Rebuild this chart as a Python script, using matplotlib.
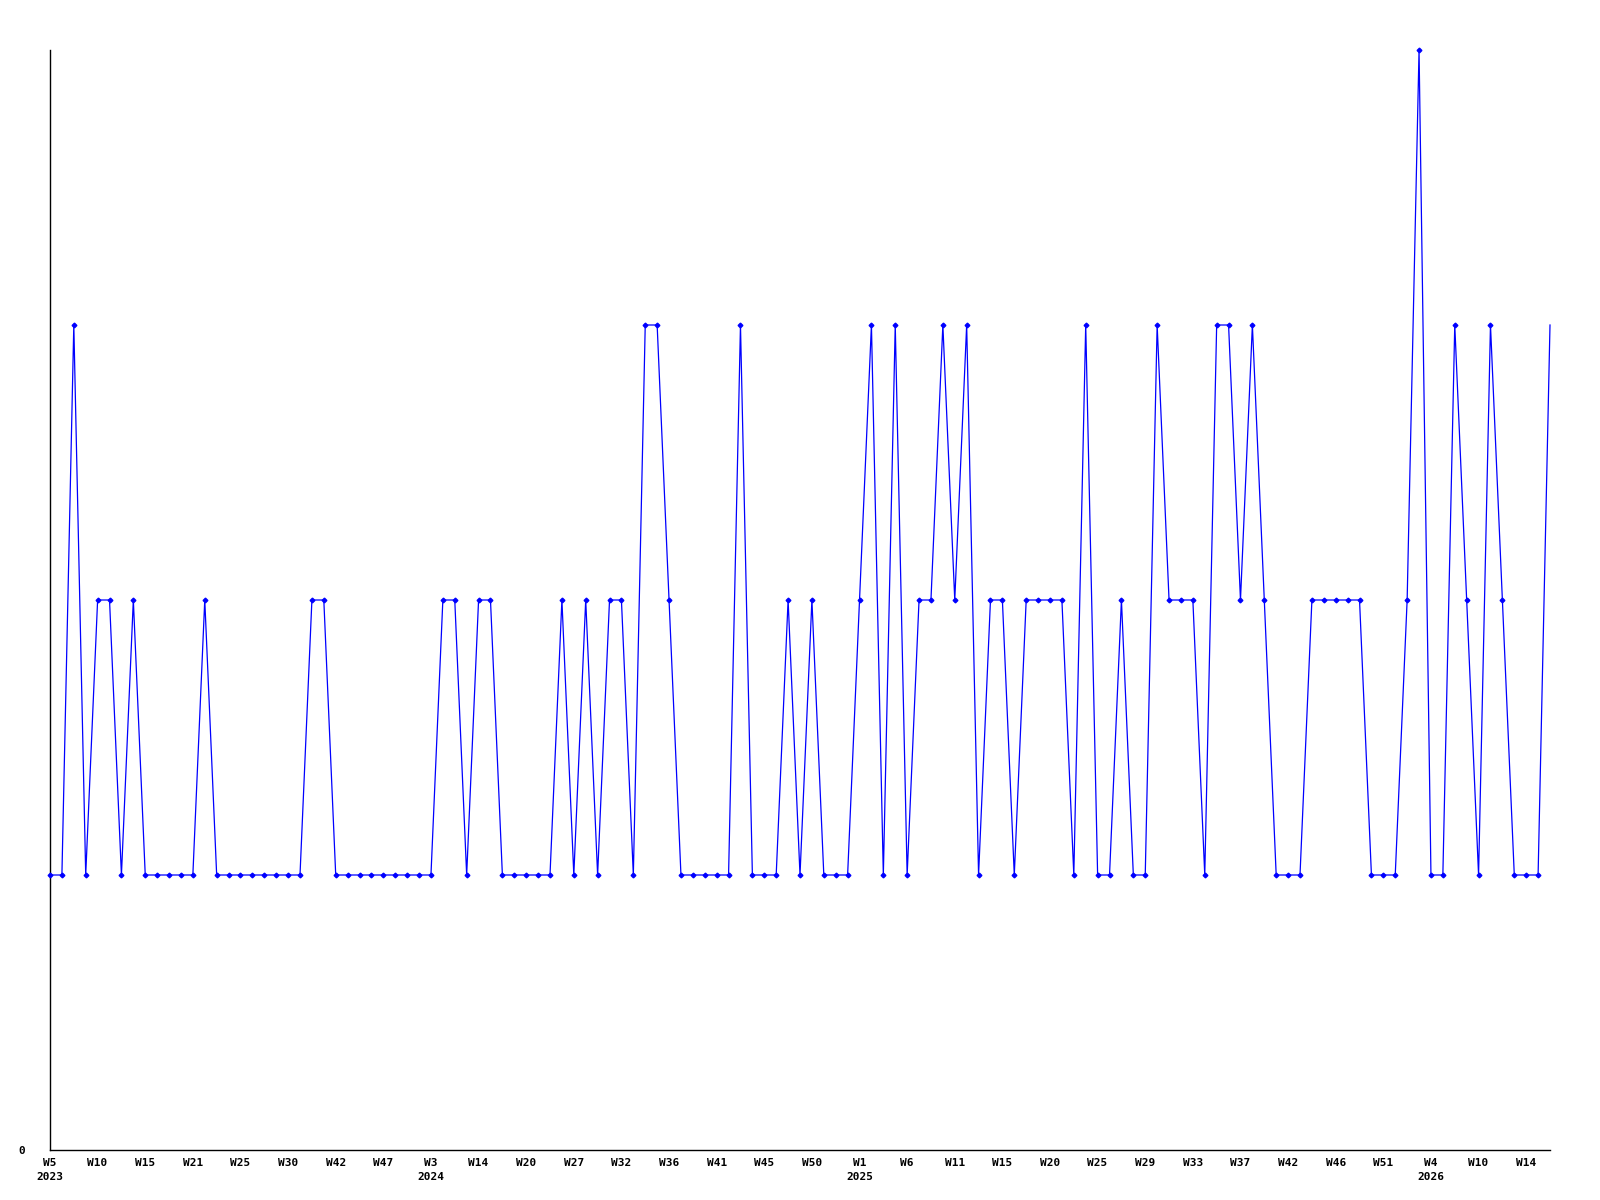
import matplotlib
matplotlib.use("Agg")
import matplotlib.pyplot as plt

# Weekly values (categorical x axis, one point per week with data)
values = [1, 1, 3, 1, 2, 2, 1, 2, 1, 1, 1, 1, 1, 2, 1, 1, 1, 1, 1, 1, 1, 1, 2, 2, 1, 1, 1, 1, 1, 1, 1, 1, 1,
          2, 2, 1, 2, 2, 1, 1, 1, 1, 1, 2, 1, 2, 1, 2, 2, 1, 3, 3, 2, 1, 1, 1, 1, 1, 3, 1, 1, 1, 2, 1, 2,
          1, 1, 1, 2, 3, 1, 3, 1, 2, 2, 3, 2, 3, 1, 2, 2, 1, 2, 2, 2, 2, 1, 3, 1, 1, 2, 1, 1, 3, 2, 2, 2, 1,
          3, 3, 2, 3, 2, 1, 1, 1, 2, 2, 2, 2, 2, 1, 1, 1, 2, 4, 1, 1, 3, 2, 1, 3, 2, 1, 1, 1, 3]

# Tick labels, one every 4 weeks
week_labels = ["W5", "W10", "W15", "W21", "W25", "W30", "W42", "W47", "W3", "W14", "W20",
               "W27", "W32", "W36", "W41", "W45", "W50", "W1", "W6", "W11", "W15", "W20",
               "W25", "W29", "W33", "W37", "W42", "W46", "W51", "W4", "W10", "W14"]
# Year shown under the first tick of each year (tick index -> year)
year_labels = {0: "2023", 8: "2024", 17: "2025", 29: "2026"}

tick_step = 4

fig = plt.figure(figsize=(16, 12), dpi=100)
ax = fig.add_axes([50 / 1600, 1 - 1150 / 1200, 1500 / 1600, 1100 / 1200])

x = list(range(len(values)))
ax.plot(x, values, color="#0000ff", lw=0.9, marker="D", ms=2.4,
        markevery=list(range(len(values) - 1)), clip_on=False, zorder=3)

ax.set_xlim(0, len(values) - 1)
ax.set_ylim(0, 4)

positions = list(range(0, len(values), tick_step))[:len(week_labels)]
labels = []
for i, w in enumerate(week_labels):
    yr = year_labels.get(i)
    labels.append(w + "\n" + yr if yr else w)
ax.set_xticks(positions)
ax.set_xticklabels(labels, fontfamily="DejaVu Sans Mono", fontweight="bold",
                   fontsize=8, linespacing=1.45, va="top")
ax.set_yticks([0])
ax.set_yticklabels(["0"], fontfamily="DejaVu Sans Mono", fontweight="bold", fontsize=8)
ax.tick_params(axis="x", length=0, pad=6)
ax.tick_params(axis="y", length=0, pad=18)

for s in ("top", "right"):
    ax.spines[s].set_visible(False)
for s in ("left", "bottom"):
    ax.spines[s].set_color("black")
    ax.spines[s].set_linewidth(1.0)

fig.savefig("out.png", dpi=100, facecolor="white")
